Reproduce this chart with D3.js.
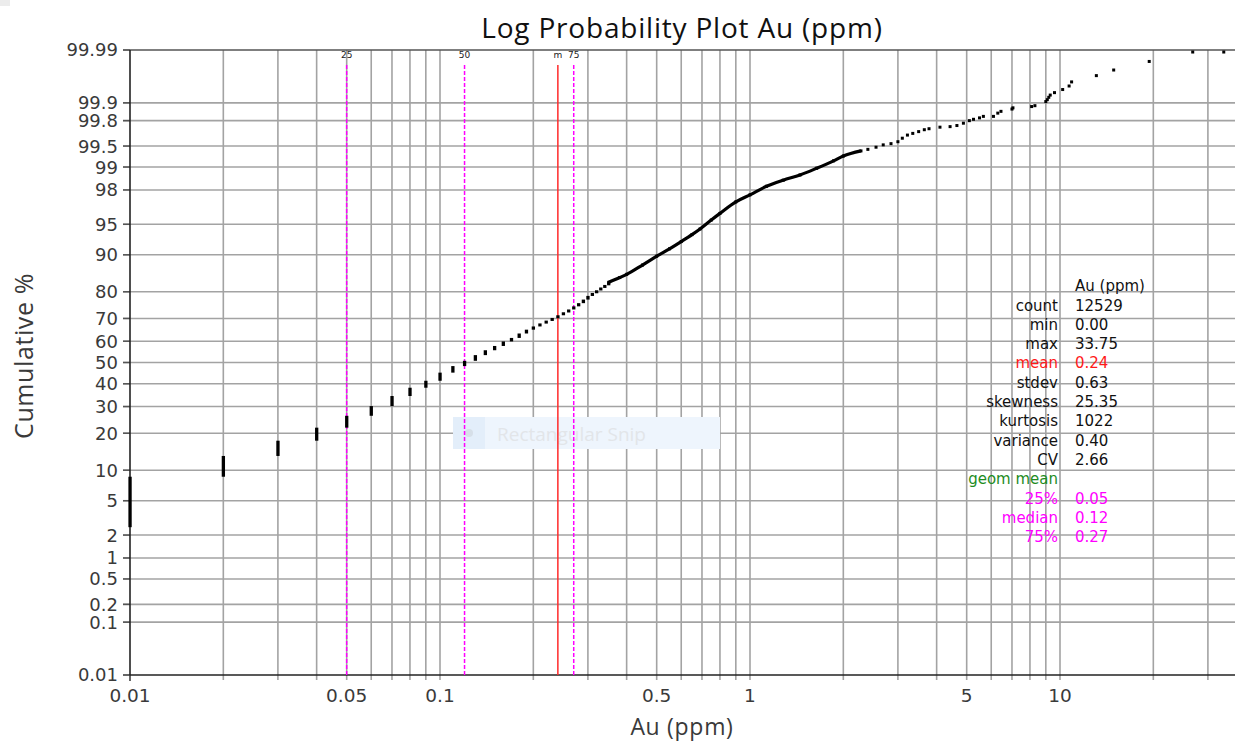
<!DOCTYPE html>
<html><head><meta charset="utf-8">
<script src="https://cdn.jsdelivr.net/npm/d3@7"></script>
<style>html,body{margin:0;padding:0;background:#fff;overflow:hidden}svg{display:block}</style>
</head><body>
<svg id="c" width="1235" height="744"></svg>
<script>
// ---------- data ----------
const xGridValues = [0.01,0.02,0.03,0.04,0.05,0.06,0.07,0.08,0.09,0.1,0.2,0.3,0.4,0.5,0.6,0.7,0.8,0.9,1,2,3,4,5,6,7,8,9,10,20,30];
const xTickLabels = [0.01,0.05,0.1,0.5,1,5,10];
const yTickLabels = [0.01,0.1,0.2,0.5,1,2,5,10,20,30,40,50,60,70,80,90,95,98,99,99.5,99.8,99.9,99.99];

// discrete (rounded) assay values shown as vertical bars: value and cumulative % reached
const stepAu  = [0.01,0.02,0.03,0.04,0.05,0.06,0.07,0.08,0.09,0.10,0.11,0.12,0.13,0.14,0.15,0.16,0.17,0.18,0.19,0.20,0.21,0.22,0.23,0.24,0.25,0.26,0.27,0.28,0.29,0.30,0.31,0.32,0.33,0.34,0.35];
const stepPct = [8.7,13.3,17.6,21.9,26.3,30.2,34.5,38.2,41.4,45.2,48.3,50.8,53.5,55.8,57.8,59.9,61.5,63.5,65.2,66.6,67.9,69.1,70.2,71.3,72.5,73.6,74.8,76.0,77.3,78.6,79.6,80.5,81.4,82.2,83.0];
const stepStartPct = 2.5;

// dense part of the curve
const denseAu  = [0.35,0.38,0.40,0.45,0.50,0.55,0.60,0.65,0.69,0.75,0.80,0.90,1.00,1.13,1.28,1.45,1.64,1.86,2.00,2.28];
const densePct = [83.0,84.4,85.3,87.7,89.7,91.2,92.5,93.6,94.4,95.5,96.2,97.2,97.7,98.2,98.5,98.72,98.96,99.18,99.30,99.41];

// sparse upper tail points
const tailAu  = [2.4,2.55,2.69,2.85,3.0,3.1,3.22,3.35,3.5,3.65,3.78,4.1,4.42,4.65,4.88,5.1,5.26,5.5,5.66,6.1,6.3,6.45,7.0,7.05,8.1,8.3,9.0,9.1,9.2,9.3,9.6,10.2,10.7,10.9,13.1,14.9,19.4,26.8,33.75];
const tailPct = [99.44,99.48,99.52,99.54,99.57,99.62,99.66,99.68,99.70,99.72,99.73,99.745,99.75,99.76,99.78,99.80,99.81,99.82,99.83,99.83,99.85,99.86,99.872,99.878,99.884,99.888,99.905,99.912,99.92,99.927,99.934,99.942,99.950,99.958,99.968,99.975,99.983,99.989,99.989];

// quantile / mean markers
const markerLabels = ["25","50","m","75"];
const markerAu     = [0.05,0.12,0.24,0.27];
const markerType   = ["q","q","mean","q"];

// statistics table
const statHeader = "Au (ppm)";
const statNames  = ["count","min","max","mean","stdev","skewness","kurtosis","variance","CV","geom mean","25%","median","75%"];
const statValues = ["12529","0.00","33.75","0.24","0.63","25.35","1022","0.40","2.66","","0.05","0.12","0.27"];
const statKind   = ["n","n","n","mean","n","n","n","n","n","geom","q","q","q"];

// ---------- helpers ----------
function probit(p){
  const a=[-3.969683028665376e+01,2.209460984245205e+02,-2.759285104469687e+02,1.383577518672690e+02,-3.066479806614716e+01,2.506628277459239e+00];
  const b=[-5.447609879822406e+01,1.615858368580409e+02,-1.556989798598866e+02,6.680131188771972e+01,-1.328068155288572e+01];
  const c=[-7.784894002430293e-03,-3.223964580411365e-01,-2.400758277161838e+00,-2.549732539343734e+00,4.374664141464968e+00,2.938163982698783e+00];
  const d=[7.784695709041462e-03,3.224671290700398e-01,2.445134137142996e+00,3.754408661907416e+00];
  const pl=0.02425, ph=1-pl; let q,r;
  if(p<pl){q=Math.sqrt(-2*Math.log(p));return (((((c[0]*q+c[1])*q+c[2])*q+c[3])*q+c[4])*q+c[5])/((((d[0]*q+d[1])*q+d[2])*q+d[3])*q+1);}
  if(p<=ph){q=p-0.5;r=q*q;return (((((a[0]*r+a[1])*r+a[2])*r+a[3])*r+a[4])*r+a[5])*q/(((((b[0]*r+b[1])*r+b[2])*r+b[3])*r+b[4])*r+1);}
  q=Math.sqrt(-2*Math.log(1-p));return -(((((c[0]*q+c[1])*q+c[2])*q+c[3])*q+c[4])*q+c[5])/((((d[0]*q+d[1])*q+d[2])*q+d[3])*q+1);
}

const svg = d3.select("#c");
const L=130, T=50, B=675, R=1235;
const x = d3.scaleLog().domain([0.01,100]).range([L, L+4*310]);
const zScale = d3.scaleLinear().domain([probit(0.0001), probit(0.9999)]).range([B, T]);
const y = p => zScale(probit(p/100));

const AX = "DejaVu Sans";
svg.append("rect").attr("x",0).attr("y",0).attr("width",10).attr("height",6).attr("fill","#ececec");

// grid
const g = svg.append("g");
g.selectAll(".vg").data(xGridValues.filter(v=>v>0.01)).enter().append("line")
  .attr("x1",d=>x(d)).attr("x2",d=>x(d)).attr("y1",T).attr("y2",B+5)
  .attr("stroke","#a3a3a3").attr("stroke-width",1.6);
g.selectAll(".hg").data(yTickLabels.filter(v=>v>0.01 && v<99.99)).enter().append("line")
  .attr("x1",L-7).attr("x2",R).attr("y1",d=>y(d)).attr("y2",d=>y(d))
  .attr("stroke","#a3a3a3").attr("stroke-width",1.6);
g.append("line").attr("x1",L-7).attr("x2",L).attr("y1",T).attr("y2",T).attr("stroke","#333").attr("stroke-width",1.5);
g.append("line").attr("x1",L-7).attr("x2",L).attr("y1",B).attr("y2",B).attr("stroke","#333").attr("stroke-width",1.5);
g.append("line").attr("x1",L).attr("x2",L).attr("y1",B).attr("y2",B+6).attr("stroke","#333").attr("stroke-width",1.5);
g.selectAll(".ht").data(yTickLabels.filter(v=>v>0.01 && v<99.99)).enter().append("line")
  .attr("x1",L-7).attr("x2",L).attr("y1",d=>y(d)).attr("y2",d=>y(d))
  .attr("stroke","#555").attr("stroke-width",1.5);

// watermark
svg.append("rect").attr("x",453).attr("y",417).attr("width",267).attr("height",32).attr("fill","#eef5fd");
svg.append("rect").attr("x",453).attr("y",417).attr("width",32).attr("height",32).attr("fill","#e3eefa");
svg.append("circle").attr("cx",469).attr("cy",433).attr("r",4).attr("fill","#d6dfe8");
svg.append("text").attr("x",497).attr("y",441).text("Rectangular Snip")
  .attr("font-family","Open Sans").attr("font-size",19).attr("fill","#e2e5e9");

// axes frame
svg.append("line").attr("x1",L).attr("x2",R).attr("y1",T).attr("y2",T).attr("stroke","#555").attr("stroke-width",1.6);
svg.append("line").attr("x1",L).attr("x2",R).attr("y1",B).attr("y2",B).attr("stroke","#222").attr("stroke-width",1.6);
svg.append("line").attr("x1",L).attr("x2",L).attr("y1",T).attr("y2",B).attr("stroke","#222").attr("stroke-width",1.6);

// markers
markerAu.forEach((v,i)=>{
  const isMean = markerType[i]==="mean";
  svg.append("line").attr("x1",x(v)).attr("x2",x(v)).attr("y1",65).attr("y2",B)
    .attr("stroke",isMean?"#ff2a2a":"#ff00ff").attr("stroke-width",1.5)
    .attr("stroke-dasharray",isMean?null:"4,2");
  svg.append("text").attr("x",x(v)).attr("y",58).attr("text-anchor","middle")
    .attr("font-family",AX).attr("font-size",9).attr("fill","#222").text(markerLabels[i]);
});

// axis labels
svg.selectAll(".yl").data(yTickLabels).enter().append("text")
  .attr("x",L-12).attr("y",d=>y(d)).attr("dy","0.36em").attr("text-anchor","end")
  .attr("font-family",AX).attr("font-size",18).attr("fill","#3a3a3a").text(d=>String(d));
svg.selectAll(".xl").data(xTickLabels).enter().append("text")
  .attr("x",d=>x(d)).attr("y",702).attr("text-anchor","middle")
  .attr("font-family",AX).attr("font-size",18.5).attr("fill","#3a3a3a").text(d=>String(d));

// data: step bars
stepAu.forEach((v,i)=>{
  const lo = i===0 ? stepStartPct : stepPct[i-1];
  const hi = stepPct[i];
  svg.append("rect").attr("x",x(v)-1.6).attr("width",3.3)
    .attr("y",y(hi)).attr("height",Math.max(3,y(lo)-y(hi))).attr("fill","#000");
});
// dense curve
const dense = denseAu.map((v,i)=>[v,densePct[i]]);
svg.append("path").attr("d",d3.line().curve(d3.curveMonotoneX).x(d=>x(d[0])).y(d=>y(d[1]))(dense))
  .attr("fill","none").attr("stroke","#000").attr("stroke-width",3.2).attr("stroke-linejoin","round");
dense.forEach(d=>svg.append("rect").attr("x",x(d[0])-1.5).attr("y",y(d[1])-1.5).attr("width",3).attr("height",3).attr("fill","#000"));
// tail points
tailAu.forEach((v,i)=>{
  svg.append("rect").attr("x",x(v)-1.5).attr("y",y(tailPct[i])-1.5).attr("width",3).attr("height",3).attr("fill","#000");
});

// stats table
const col = k => k==="mean"?"#ff1a1a":k==="geom"?"#1e8c1e":k==="q"?"#ff00ff":"#111";
const SF = "DejaVu Sans", SS = 15;
svg.append("text").attr("x",1075).attr("y",286).attr("dy","0.35em").attr("font-family",SF).attr("font-size",SS).attr("fill","#111").text(statHeader);
statNames.forEach((n,i)=>{
  const yy = 305.3 + i*19.3;
  svg.append("text").attr("x",1058).attr("y",yy).attr("dy","0.35em").attr("text-anchor","end")
    .attr("font-family",SF).attr("font-size",SS).attr("fill",col(statKind[i])).text(n);
  svg.append("text").attr("x",1075).attr("y",yy).attr("dy","0.35em")
    .attr("font-family",SF).attr("font-size",SS).attr("fill",col(statKind[i])).text(statValues[i]);
});

// titles
svg.append("text").attr("x",682).attr("y",38).attr("text-anchor","middle")
  .attr("font-family","Open Sans").attr("font-size",28).attr("letter-spacing",0.8).attr("fill","#111").text("Log Probability Plot Au (ppm)");
svg.append("text").attr("x",682).attr("y",735).attr("text-anchor","middle")
  .attr("font-family","Open Sans").attr("font-size",23).attr("letter-spacing",0.7).attr("fill","#3a3a3a").text("Au (ppm)");
svg.append("text").attr("transform","translate(33,356) rotate(-90)").attr("text-anchor","middle")
  .attr("font-family","Open Sans").attr("font-size",25).attr("letter-spacing",0.6).attr("fill","#3a3a3a").text("Cumulative %");
</script>
</body></html>
